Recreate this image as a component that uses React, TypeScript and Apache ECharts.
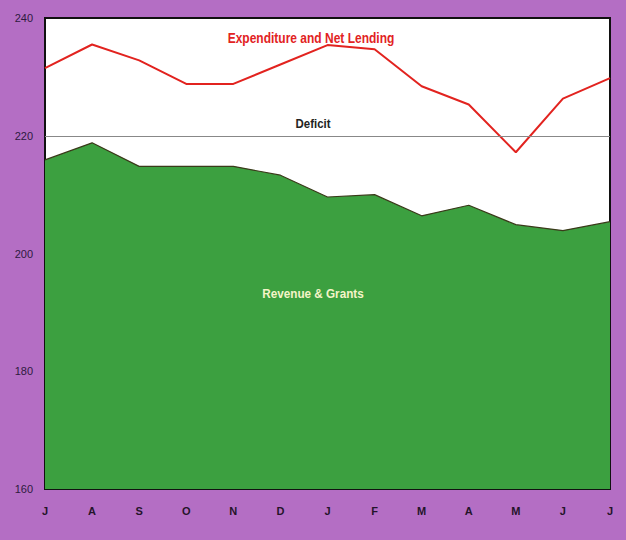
import React, { useEffect, useRef } from "react";
import * as echarts from "echarts";

const months = ["J", "A", "S", "O", "N", "D", "J", "F", "M", "A", "M", "J", "J"];
const expenditure = [231.5, 235.5, 232.8, 228.8, 228.8, 232.1, 235.4, 234.7, 228.4, 225.3, 217.2, 226.3, 229.8];
const revenue = [215.9, 218.8, 214.8, 214.8, 214.8, 213.3, 209.6, 210.0, 206.4, 208.2, 204.9, 203.9, 205.4];
const yTicks = [160, 180, 200, 220, 240];
const deficitLine = 220;

export default function App() {
  const ref = useRef<HTMLDivElement>(null);
  useEffect(() => {
    document.body.style.margin = "0";
    const chart = echarts.init(ref.current!, null, { renderer: "svg" });
    const font = "'Liberation Sans', Arial, sans-serif";
    chart.setOption({
      animation: false,
      backgroundColor: "#b46ec4",
      grid: {
        left: 45,
        right: 16,
        top: 18,
        bottom: 51,
        show: true,
        backgroundColor: "#ffffff",
        borderColor: "#111111",
        borderWidth: 2,
      },
      xAxis: {
        type: "category",
        data: months,
        boundaryGap: false,
        axisLine: { show: false },
        axisTick: { show: false },
        axisLabel: {
          margin: 16,
          color: "#24142a",
          fontSize: 11,
          fontWeight: "bold",
          fontFamily: font,
        },
      },
      yAxis: {
        type: "value",
        min: yTicks[0],
        max: yTicks[yTicks.length - 1],
        interval: 20,
        axisLine: { show: false },
        axisTick: { show: false },
        splitLine: { show: false },
        axisLabel: {
          margin: 12,
          color: "#2e1a40",
          fontSize: 11,
          fontFamily: font,
        },
      },
      series: [
        {
          name: "Revenue & Grants",
          type: "line",
          data: revenue,
          symbol: "none",
          lineStyle: { color: "#3a3a1a", width: 1.2 },
          areaStyle: { color: "#3ca040", opacity: 1, origin: "start" },
          z: 2,
          markLine: {
            silent: true,
            symbol: "none",
            label: { show: false },
            lineStyle: { color: "#888888", width: 1, type: "solid" },
            data: [{ yAxis: deficitLine }],
          },
        },
        {
          name: "Expenditure and Net Lending",
          type: "line",
          data: expenditure,
          symbol: "none",
          lineStyle: { color: "#e2231f", width: 2 },
          z: 3,
        },
      ],
      graphic: [
        {
          type: "text",
          x: 311,
          y: 38,
          scaleX: 0.8,
          style: {
            text: "Expenditure and Net Lending",
            fill: "#e2231f",
            font: `bold 15px ${font}`,
            align: "center",
            verticalAlign: "middle",
          },
        },
        {
          type: "text",
          x: 313,
          y: 124,
          scaleX: 0.88,
          style: {
            text: "Deficit",
            fill: "#222222",
            font: `bold 13px ${font}`,
            align: "center",
            verticalAlign: "middle",
          },
        },
        {
          type: "text",
          x: 313,
          y: 294,
          z: 10,
          scaleX: 0.9,
          style: {
            text: "Revenue & Grants",
            fill: "#f4f4c8",
            font: `bold 13px ${font}`,
            align: "center",
            verticalAlign: "middle",
          },
        },
      ],
    });
    return () => chart.dispose();
  }, []);
  return <div ref={ref} style={{ width: 626, height: 540 }} />;
}
